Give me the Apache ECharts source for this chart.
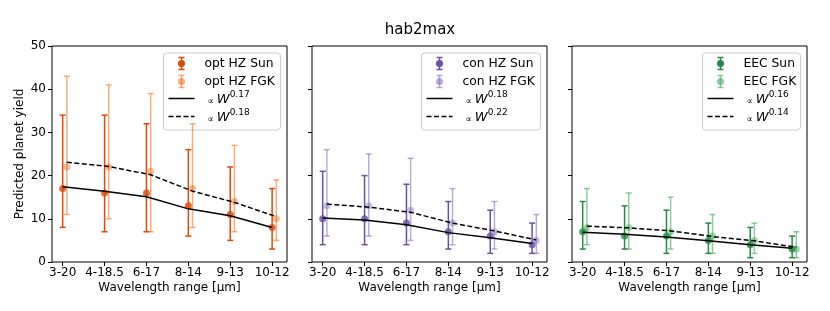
<!DOCTYPE html>
<html>
<head>
<meta charset="utf-8">
<script src="https://cdn.jsdelivr.net/npm/echarts@6/dist/echarts.min.js"></script>
<style>html,body{margin:0;padding:0;background:#fff;}#c{width:830px;height:311px;}</style>
</head>
<body>
<div id="c"></div>
<script>
// ---- data ----
const categories = ['3-20', '4-18.5', '6-17', '8-14', '9-13', '10-12'];
const yTicks = [0, 10, 20, 30, 40, 50];

const optSun = [17, 16, 16, 13, 11, 8];
const optSunLo = [8, 7, 7, 6, 5, 3];
const optSunHi = [34, 34, 32, 26, 22, 17];
const optFGK = [22, 22, 21, 17, 14, 10];
const optFGKLo = [11, 10, 7, 8, 7, 5];
const optFGKHi = [43, 41, 39, 32, 27, 19];
const optFitSun = [17.4, 16.4, 15.1, 12.3, 10.7, 8.0];
const optFitFGK = [23.1, 22.1, 20.2, 16.4, 13.8, 10.5];

const conSun = [10, 10, 9, 7, 6, 4];
const conSunLo = [4, 4, 4, 3, 2, 2];
const conSunHi = [21, 20, 18, 14, 12, 9];
const conFGK = [13, 13, 12, 9, 7, 5];
const conFGKLo = [6, 6, 5, 4, 3, 2];
const conFGKHi = [26, 25, 24, 17, 14, 11];
const conFitSun = [10.2, 9.7, 8.6, 6.8, 5.6, 4.3];
const conFitFGK = [13.4, 12.7, 11.5, 9.0, 7.2, 5.1];

const eecSun = [7, 6, 6, 5, 4, 3];
const eecSunLo = [3, 3, 2, 2, 1, 1];
const eecSunHi = [14, 13, 12, 9, 8, 6];
const eecFGK = [8, 8, 7, 6, 5, 3];
const eecFGKLo = [4, 3, 3, 2, 2, 1];
const eecFGKHi = [17, 16, 15, 11, 9, 7];
const eecFitSun = [6.9, 6.4, 5.8, 4.9, 4.0, 3.2];
const eecFitFGK = [8.3, 7.9, 7.2, 5.9, 4.9, 3.4];

const panelNames = ['opt HZ', 'con HZ', 'EEC'];
const fitExpSun = ['0.17', '0.18', '0.16'];
const fitExpFGK = ['0.18', '0.22', '0.14'];

// ---- style / layout ----
const FGK_OFFSET = 0.1;
const sunColors = ['#dc4a07', '#6a51a3', '#238b45'];
const fgkColors = ['rgba(241,105,19,0.55)', 'rgba(128,104,186,0.55)', 'rgba(65,171,93,0.6)'];
const font = 'DejaVu Sans';
const grids = [
  {left: 52, top: 46, width: 235, height: 216},
  {left: 312, top: 46, width: 235, height: 216},
  {left: 572, top: 46, width: 235, height: 216}
];
const legendW = [117, 119, 98];

const panels = [
  {sun: optSun, sunLo: optSunLo, sunHi: optSunHi, fgk: optFGK, fgkLo: optFGKLo, fgkHi: optFGKHi, fitS: optFitSun, fitF: optFitFGK},
  {sun: conSun, sunLo: conSunLo, sunHi: conSunHi, fgk: conFGK, fgkLo: conFGKLo, fgkHi: conFGKHi, fitS: conFitSun, fitF: conFitFGK},
  {sun: eecSun, sunLo: eecSunLo, sunHi: eecSunHi, fgk: eecFGK, fgkLo: eecFGKLo, fgkHi: eecFGKHi, fitS: eecFitSun, fitF: eecFitFGK}
];

const xIdx = categories.map((c, i) => i);

function errRender(color) {
  return function (params, api) {
    const x = api.value(0), lo = api.value(1), hi = api.value(2);
    const p1 = api.coord([x, lo]), p2 = api.coord([x, hi]);
    const cap = 3;
    const st = {stroke: color, lineWidth: 1.5};
    return {type: 'group', children: [
      {type: 'line', shape: {x1: p1[0], y1: p1[1], x2: p2[0], y2: p2[1]}, style: st},
      {type: 'line', shape: {x1: p1[0] - cap, y1: p1[1], x2: p1[0] + cap, y2: p1[1]}, style: st},
      {type: 'line', shape: {x1: p2[0] - cap, y1: p2[1], x2: p2[0] + cap, y2: p2[1]}, style: st}
    ]};
  };
}

const xAxes = [], yAxes = [], series = [], graphics = [];
panels.forEach((p, k) => {
  xAxes.push({
    type: 'value', gridIndex: k, min: -0.255, max: 5.355,
    name: 'Wavelength range [µm]', nameLocation: 'middle', nameGap: 20, nameMoveOverlap: false,
    nameTextStyle: {fontFamily: font, fontSize: 12, color: '#000'},
    axisLine: {show: false, onZero: false}, splitLine: {show: false},
    axisTick: {show: true, length: 4, lineStyle: {color: '#000'}, customValues: xIdx},
    axisLabel: {fontFamily: font, fontSize: 12, color: '#000', margin: 5, customValues: xIdx,
      formatter: v => categories[Math.round(v)]}
  });
  yAxes.push({
    type: 'value', gridIndex: k, min: 0, max: 50, interval: 10,
    name: k === 0 ? 'Predicted planet yield' : '', nameLocation: 'middle', nameGap: 26, nameMoveOverlap: false,
    nameTextStyle: {fontFamily: font, fontSize: 12, color: '#000'},
    axisLine: {show: false, onZero: false}, splitLine: {show: false},
    axisTick: {show: true, length: 4, lineStyle: {color: '#000'}},
    axisLabel: {show: k === 0, fontFamily: font, fontSize: 12, color: '#000', margin: 6,
      formatter: v => yTicks.indexOf(v) >= 0 ? String(v) : ''}
  });
  const nm = panelNames[k];
  series.push({
    type: 'custom', name: nm + ' FGK', xAxisIndex: k, yAxisIndex: k, z: 2,
    renderItem: errRender(fgkColors[k]),
    data: xIdx.map(i => [i + FGK_OFFSET, p.fgkLo[i], p.fgkHi[i]])
  });
  series.push({
    type: 'scatter', name: nm + ' FGK pts', xAxisIndex: k, yAxisIndex: k, z: 3,
    symbolSize: 7, itemStyle: {color: fgkColors[k]},
    data: xIdx.map(i => [i + FGK_OFFSET, p.fgk[i]])
  });
  series.push({
    type: 'custom', name: nm + ' Sun', xAxisIndex: k, yAxisIndex: k, z: 4,
    renderItem: errRender(sunColors[k]),
    data: xIdx.map(i => [i, p.sunLo[i], p.sunHi[i]])
  });
  series.push({
    type: 'scatter', name: nm + ' Sun pts', xAxisIndex: k, yAxisIndex: k, z: 5,
    symbolSize: 7, itemStyle: {color: sunColors[k]},
    data: xIdx.map(i => [i, p.sun[i]])
  });
  series.push({
    type: 'line', name: 'fitSun' + k, xAxisIndex: k, yAxisIndex: k, z: 6,
    showSymbol: false, lineStyle: {color: '#000', width: 1.5},
    data: xIdx.map(i => [i, p.fitS[i]])
  });
  series.push({
    type: 'line', name: 'fitFGK' + k, xAxisIndex: k, yAxisIndex: k, z: 6,
    showSymbol: false, lineStyle: {color: '#000', width: 1.5, type: [5, 2.5]},
    data: xIdx.map(i => [i + FGK_OFFSET, p.fitF[i]])
  });

  // legend box (matplotlib-style)
  const g = grids[k];
  const bw = legendW[k], bx = g.left + g.width - 6.5 - bw, by = g.top + 7;
  const rows = [by + 10.5, by + 28.5, by + 45.5, by + 63.5];
  const hx = bx + 18;
  const ch = [];
  ch.push({type: 'rect', shape: {x: bx, y: by, width: bw, height: 77, r: 3},
    style: {fill: 'rgba(255,255,255,0.8)', stroke: '#cccccc', lineWidth: 1}});
  [[sunColors[k], nm + ' Sun'], [fgkColors[k], nm + ' FGK']].forEach((e, j) => {
    const y = rows[j];
    const st = {stroke: e[0], lineWidth: 1.5};
    ch.push({type: 'line', shape: {x1: hx, y1: y - 6, x2: hx, y2: y + 6}, style: st});
    ch.push({type: 'line', shape: {x1: hx - 3, y1: y - 6, x2: hx + 3, y2: y - 6}, style: st});
    ch.push({type: 'line', shape: {x1: hx - 3, y1: y + 6, x2: hx + 3, y2: y + 6}, style: st});
    ch.push({type: 'circle', shape: {cx: hx, cy: y, r: 3.5}, style: {fill: e[0]}});
    ch.push({type: 'text', x: bx + 41, y: y, style: {text: e[1], fontFamily: font, fontSize: 12.3,
      fill: '#000', verticalAlign: 'middle'}});
  });
  [[fitExpSun[k], null], [fitExpFGK[k], [5, 2.5]]].forEach((e, j) => {
    const y = rows[2 + j];
    ch.push({type: 'line', shape: {x1: bx + 5, y1: y, x2: bx + 31, y2: y},
      style: {stroke: '#000', lineWidth: 1.5, lineDash: e[1]}});
    ch.push({type: 'text', x: bx + 44, y: y, style: {
      text: '{p|∝ }{w|W}{s|' + e[0] + '}', fontFamily: font, fill: '#000', verticalAlign: 'middle',
      rich: {
        p: {fontFamily: font, fontSize: 9, fill: '#000', verticalAlign: 'bottom', lineHeight: 16},
        w: {fontFamily: font, fontSize: 13, fontStyle: 'italic', fill: '#000', verticalAlign: 'bottom', lineHeight: 16},
        s: {fontFamily: font, fontSize: 9, fill: '#000', verticalAlign: 'top', lineHeight: 16}
      }}});
  });
  graphics.push({type: 'group', children: ch, z: 100});
});

const chart = echarts.init(document.getElementById('c'), null, {renderer: 'canvas'});
chart.setOption({
  animation: false,
  backgroundColor: '#fff',
  title: {text: 'hab2max', left: 415, top: 18, textAlign: 'center',
    textStyle: {fontFamily: font, fontSize: 15, fontWeight: 'normal', color: '#000'}},
  grid: grids.map(g => Object.assign({show: true, borderColor: '#000', borderWidth: 1, backgroundColor: 'transparent', containLabel: false}, g)),
  xAxis: xAxes,
  yAxis: yAxes,
  series: series,
  graphic: graphics
});
</script>
</body>
</html>
